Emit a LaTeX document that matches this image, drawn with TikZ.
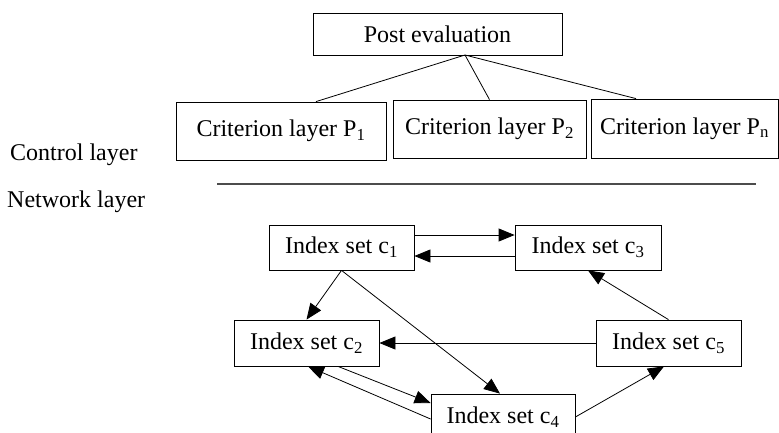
\documentclass[tikz,border=0pt]{standalone}
\usepackage{fontspec}
\setmainfont{Liberation Serif}
\usetikzlibrary{arrows.meta}

\begin{document}
\begin{tikzpicture}[x=1pt,y=-1pt,
  every node/.style={font=\fontsize{24}{28}\selectfont},
  box/.style={draw=black,line width=0.8pt,inner sep=0pt,minimum width=145pt,minimum height=46pt},
  link/.style={line width=0.8pt},
  arr/.style={line width=0.8pt,-{Triangle[length=16pt,width=13pt]}}]
\useasboundingbox (0,0) rectangle (779,432);
% goal and criteria
\node[box,minimum width=249pt,minimum height=42pt] (post) at (437.5,34) {Post evaluation};
\node[box,minimum width=210pt,minimum height=58pt] (p1) at (281,131) {Criterion layer P\textsubscript{1}};
\node[box,minimum width=193pt,minimum height=58pt] (p2) at (489.5,129) {Criterion layer P\textsubscript{2}};
\node[box,minimum width=187pt,minimum height=59pt] (pn) at (684.5,128.5) {Criterion layer P\textsubscript{n}};
\coordinate (apex) at (465,55);
\draw[link] (apex) -- ([xshift=35pt]p1.north);
\draw[link] (apex) -- (p2.north);
\draw[link] (apex) -- ([xshift=-48.5pt]pn.north);
% layers
\node[anchor=west,inner sep=0pt] (ctrl) at (10,155) {Control layer};
\node[anchor=west,inner sep=0pt] (net) at (7,202) {Network layer};
\draw[black!70,line width=1.4pt] (217,184) -- (756,184);
% index sets
\node[box,minimum height=45pt] (c1) at (341.5,247.5) {Index set c\textsubscript{1}};
\node[box,minimum width=146pt,minimum height=45pt] (c3) at (588,247.5) {Index set c\textsubscript{3}};
\node[box] (c2) at (306.5,343) {Index set c\textsubscript{2}};
\node[box] (c5) at (668.5,343) {Index set c\textsubscript{5}};
\node[box,minimum width=144pt] (c4) at (503,417) {Index set c\textsubscript{4}};
\draw[arr] ([yshift=12.5pt]c1.east) -- ([yshift=12.5pt]c3.west);
\draw[arr] ([yshift=-8.5pt]c3.west) -- ([yshift=-8.5pt]c1.east);
\draw[arr] (c1.south) -- (c2.north);
\draw[arr] (c1.south) -- ([xshift=-3pt]c4.north);
\draw[arr] (c5.west) -- (c2.east);
\draw[arr] ([xshift=31.5pt]c2.south) -- ([yshift=14pt]c4.west);
\draw[arr] ([yshift=-2pt]c4.west) -- ([xshift=1.5pt]c2.south);
\draw[arr] (c5.north) -- (c3.south);
\draw[arr] (c4.east) -- ([xshift=-4.5pt]c5.south);
\end{tikzpicture}
\end{document}
